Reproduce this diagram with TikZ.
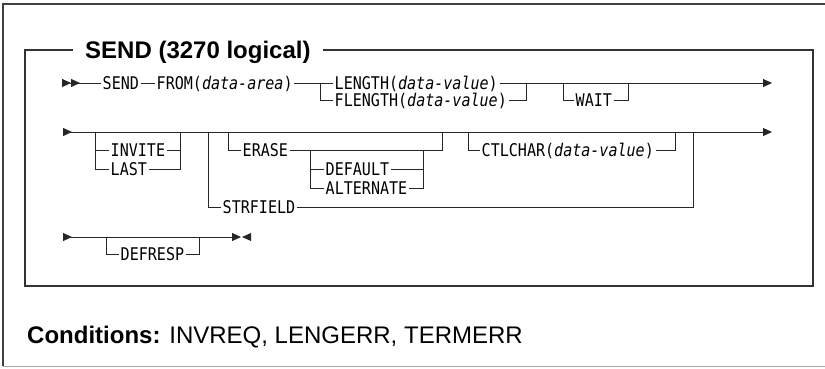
\documentclass[tikz,border=0pt]{standalone}
\usepackage{fontspec}
\setmainfont{Liberation Sans}
\newfontfamily\railfont[FakeStretch=0.86]{DejaVu Sans Mono}
\usetikzlibrary{arrows.meta}

\begin{document}
\begin{tikzpicture}[x=1pt, y=-1pt,
    rh/.tip={Triangle[length=9pt, width=8pt]},
    rhs/.tip={Triangle[length=9pt, width=8pt, reversed]},
    rail/.style={line width=0.9pt, black!85},
    boxline/.style={line width=1.3pt, black!80},
    kw/.style={font=\railfont\fontsize{17.5}{19}\selectfont, inner xsep=1.5pt, inner ysep=0pt,
               text height=12.8pt, text depth=0pt, anchor=west}]
  \useasboundingbox (0,0) rectangle (825,369);

  % outer frame, open to the right
  \draw[line width=1.3pt, black!75] (825,4) -- (3,4) -- (3,366);
  \draw[line width=1.5pt, black!35] (3,366.5) -- (825,366.5);

  % title box
  \node[font=\bfseries\fontsize{24}{28}\selectfont, inner xsep=12.5pt, inner ysep=0pt,
        text height=17pt, text depth=0pt, anchor=west] (title) at (72.5,50) {SEND (3270 logical)};
  \draw[boxline] (title.west) -- (25,50) -- (25,286) -- (813,286) -- (813,50) -- (title.east);

  % first line
  \coordinate (s1) at (62,83);
  \coordinate (e1) at (772,83);
  \node[kw] (send) at (101,83) {SEND};
  \node[kw] (from) at (155,83) {FROM(\textit{data-area})};
  \node[kw] (len)  at (333,83) {LENGTH(\textit{data-value})};
  \node[kw] (flen) at (333,100) {FLENGTH(\textit{data-value})};
  \node[kw] (wait) at (574,100) {WAIT};
  \coordinate (b1) at (320,83);
  \coordinate (b2) at (526,83);
  \coordinate (w1) at (563,83);
  \coordinate (w2) at (628,83);
  \draw[rail, {rhs[]rhs[]}-] (s1) -- (send.west);
  \draw[rail] (send.east) -- (from.west);
  \draw[rail] (from.east) -- (len.west);
  \draw[rail, -{rh[]}] (len.east) -- (e1);
  \draw[rail] (b1) |- (flen.west);
  \draw[rail] (flen.east) -| (b2);
  \draw[rail] (w1) |- (wait.west);
  \draw[rail] (wait.east) -| (w2);

  % second line
  \coordinate (s2) at (63,132);
  \coordinate (e2) at (772,132);
  \draw[rail, {rhs[]}-{rh[]}] (s2) -- (e2);
  \node[kw] (invite) at (109,150) {INVITE};
  \node[kw] (last)   at (109,169) {LAST};
  \coordinate (i1) at (95,132);
  \coordinate (i2) at (180,132);
  \draw[rail] (i1) |- (invite.west);
  \draw[rail] (i1) |- (last.west);
  \draw[rail] (invite.east) -| (i2);
  \draw[rail] (last.east) -| (i2);
  \node[kw] (strf) at (221,207) {STRFIELD};
  \coordinate (g1) at (208,132);
  \coordinate (g2) at (693,132);
  \draw[rail] (g1) |- (strf.west);
  \draw[rail] (strf.east) -| (g2);
  \node[kw] (erase) at (241,150) {ERASE};
  \coordinate (r1) at (228,132);
  \coordinate (r2) at (442,132);
  \draw[rail] (r1) |- (erase.west);
  \draw[rail] (erase.east) -| (r2);
  \node[kw] (dflt) at (324,169) {DEFAULT};
  \node[kw] (alt)  at (324,188) {ALTERNATE};
  \coordinate (d1) at (310,150);
  \coordinate (d2) at (423,150);
  \draw[rail] (d1) |- (dflt.west);
  \draw[rail] (d1) |- (alt.west);
  \draw[rail] (dflt.east) -| (d2);
  \draw[rail] (alt.east) -| (d2);
  \node[kw] (ctl) at (480,150) {CTLCHAR(\textit{data-value})};
  \coordinate (c1) at (468,132);
  \coordinate (c2) at (675,132);
  \draw[rail] (c1) |- (ctl.west);
  \draw[rail] (ctl.east) -| (c2);

  % third line
  \coordinate (s3) at (63,237);
  \coordinate (e3) at (241,237);
  \draw[rail, {rhs[]}-{rh[]}] (s3) -- (e3);
  \fill[black!85] (e3) ++(10,-4) -- ++(-9,4) -- ++(9,4) -- cycle;
  \node[kw] (defresp) at (119,254) {DEFRESP};
  \coordinate (p1) at (106,237);
  \coordinate (p2) at (199,237);
  \draw[rail] (p1) |- (defresp.west);
  \draw[rail] (defresp.east) -| (p2);

  % conditions
  \node[anchor=base west, inner sep=0pt, font=\fontsize{24}{28}\selectfont] (cond) at (27,343)
    {\textbf{Conditions:} INVREQ, LENGERR, TERMERR};
\end{tikzpicture}
\end{document}
